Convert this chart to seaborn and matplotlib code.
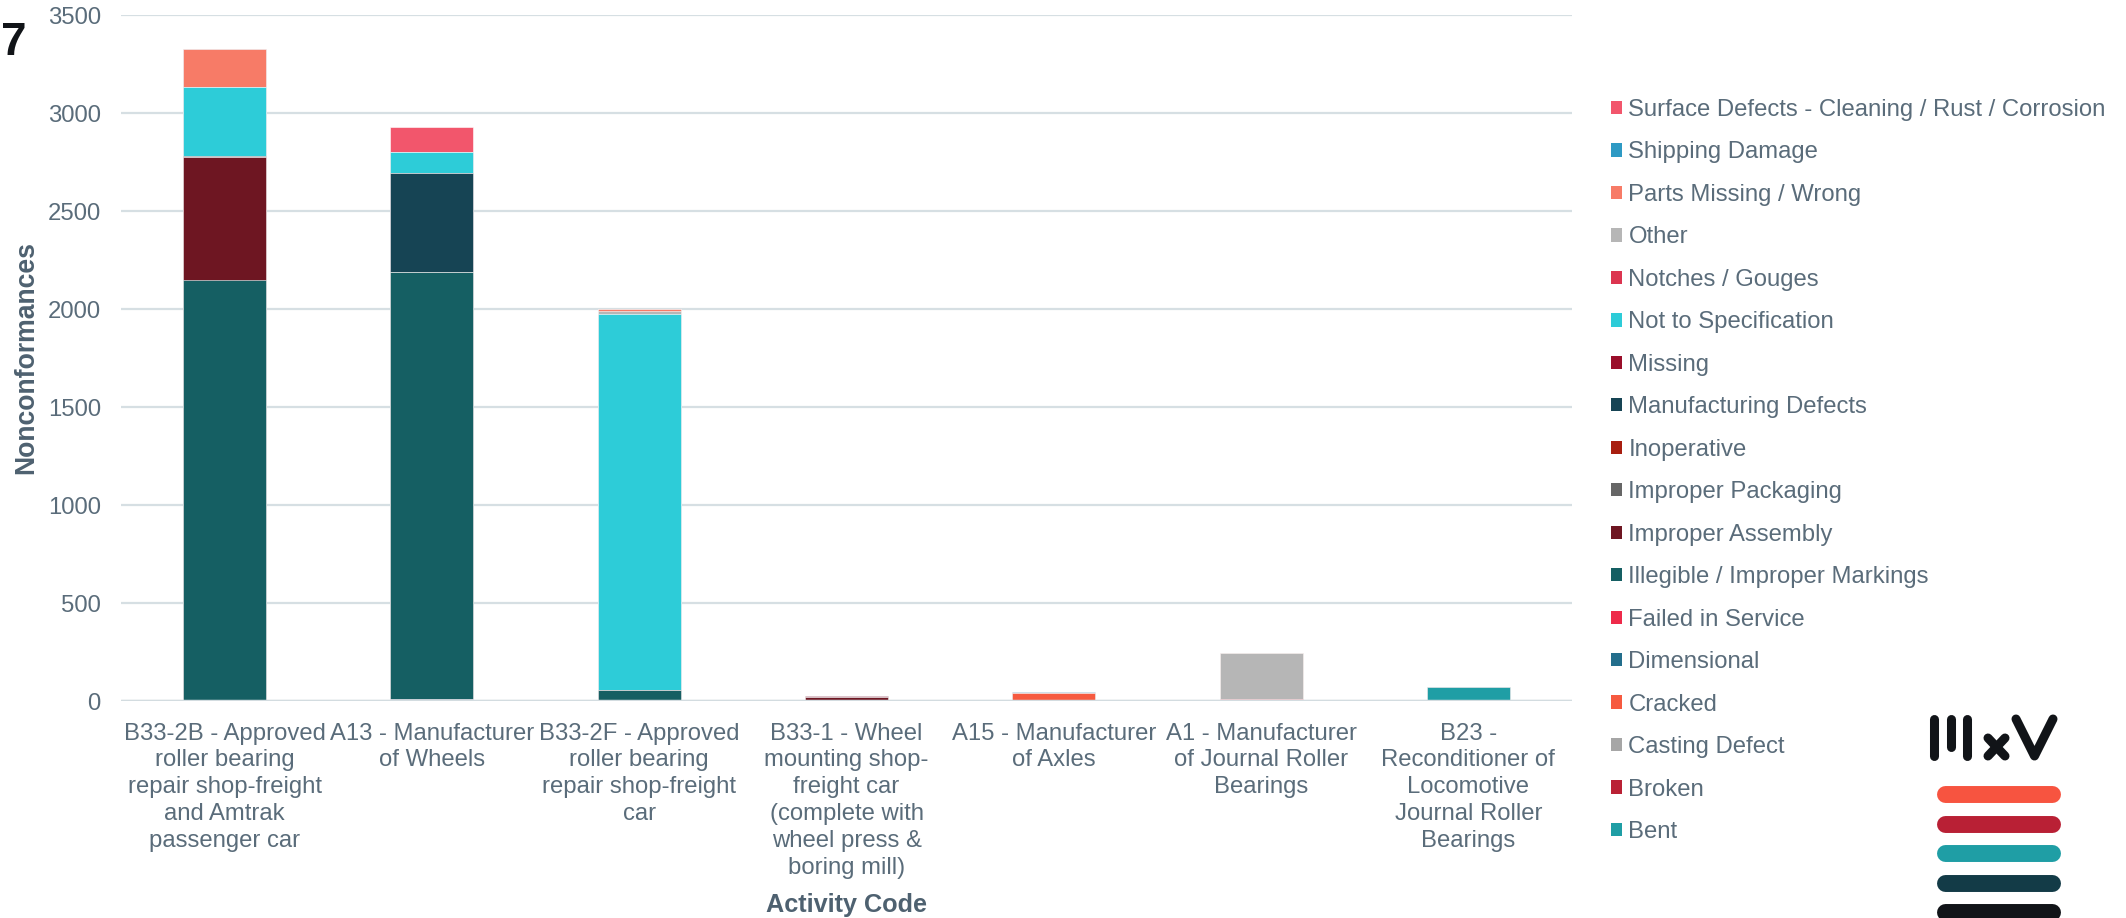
import matplotlib
matplotlib.use("Agg")
import matplotlib.pyplot as plt
from matplotlib.lines import Line2D
from matplotlib.patches import Patch
import pandas as pd
import seaborn as sns

# ---- data -------------------------------------------------------------
activity_codes = [
    "B33-2B - Approved roller bearing repair shop-freight and Amtrak passenger car",
    "A13 - Manufacturer of Wheels",
    "B33-2F - Approved roller bearing repair shop-freight car",
    "B33-1 - Wheel mounting shop-freight car (complete with wheel press & boring mill)",
    "A15 - Manufacturer of Axles",
    "A1 - Manufacturer of Journal Roller Bearings",
    "B23 - Reconditioner of Locomotive Journal Roller Bearings",
]
tick_labels = [
    "B33-2B - Approved\nroller bearing\nrepair shop-freight\nand Amtrak\npassenger car",
    "A13 - Manufacturer\nof Wheels",
    "B33-2F - Approved\nroller bearing\nrepair shop-freight\ncar",
    "B33-1 - Wheel\nmounting shop-\nfreight car\n(complete with\nwheel press &\nboring mill)",
    "A15 - Manufacturer\nof Axles",
    "A1 - Manufacturer\nof Journal Roller\nBearings",
    "B23 -\nReconditioner of\nLocomotive\nJournal Roller\nBearings",
]

# stacking order, bottom to top
defect_types = [
    "Bent", "Broken", "Casting Defect", "Cracked", "Dimensional",
    "Failed in Service", "Illegible / Improper Markings", "Improper Assembly",
    "Improper Packaging", "Inoperative", "Manufacturing Defects", "Missing",
    "Not to Specification", "Notches / Gouges", "Other",
    "Parts Missing / Wrong", "Shipping Damage",
    "Surface Defects - Cleaning / Rust / Corrosion",
]
defect_colors = [
    "#1F9EA5", "#BA2135", "#A6A6A6", "#F65A40", "#236E8C",
    "#EE2A4A", "#155F63", "#6E1622",
    "#666666", "#A81E10", "#164454", "#9A0E2A",
    "#2DCCD8", "#DC3550", "#B6B6B6",
    "#F77B67", "#2E9AC4",
    "#F2566C",
]

# nonconformance counts per activity code (same order as activity_codes)
bent                  = [0, 0, 0, 0, 0, 0, 73]
broken                = [0, 0, 0, 0, 0, 8, 0]
casting_defect        = [0, 0, 0, 0, 0, 0, 0]
cracked               = [0, 0, 0, 0, 40, 0, 0]
dimensional           = [0, 10, 0, 0, 0, 0, 0]
failed_in_service     = [0, 0, 0, 0, 0, 0, 0]
illegible_markings    = [2146, 2177, 55, 0, 0, 0, 0]
improper_assembly     = [630, 0, 0, 21, 0, 0, 0]
improper_packaging    = [0, 0, 0, 0, 0, 0, 0]
inoperative           = [0, 0, 0, 0, 0, 0, 0]
manufacturing_defects = [5, 508, 0, 0, 0, 0, 0]
missing               = [0, 0, 0, 7, 0, 0, 0]
not_to_specification  = [353, 104, 1919, 0, 0, 0, 0]
notches_gouges        = [0, 0, 0, 0, 0, 0, 0]
other                 = [0, 0, 14, 0, 0, 235, 0]
parts_missing_wrong   = [191, 0, 12, 0, 0, 0, 0]
shipping_damage       = [0, 0, 0, 0, 7, 0, 0]
surface_defects       = [0, 131, 0, 0, 0, 0, 0]

series = [
    bent, broken, casting_defect, cracked, dimensional, failed_in_service,
    illegible_markings, improper_assembly, improper_packaging, inoperative,
    manufacturing_defects, missing, not_to_specification, notches_gouges,
    other, parts_missing_wrong, shipping_damage, surface_defects,
]

rows = []
for defect, values in zip(defect_types, series):
    for code, v in zip(activity_codes, values):
        rows.append({"activity": code, "defect": defect, "count": v})
df = pd.DataFrame(rows)
df["defect"] = pd.Categorical(df["defect"], categories=defect_types, ordered=True)
df = df.sort_values(["activity", "defect"])
df["top"] = df.groupby("activity")["count"].cumsum()

# ---- style ------------------------------------------------------------
sns.set_theme(style="white")
plt.rcParams["font.family"] = ["Liberation Sans", "DejaVu Sans"]
text_color = "#5A6C7A"
label_color = "#4E6170"
grid_color = "#D6DFE3"
fs = 17.2

fig = plt.figure(figsize=(21.26, 9.18), dpi=100)
W, H = 2126, 918
ax = fig.add_axes([121 / W, 1 - 701 / H, 1451 / W, 686 / H])

# stacked bars: paint cumulative totals from the top layer downwards
for defect, color in zip(reversed(defect_types), reversed(defect_colors)):
    sub = df[df["defect"] == defect]
    sns.barplot(data=sub, x="activity", y="top", order=activity_codes,
                color=color, saturation=1, width=0.4, errorbar=None,
                edgecolor="white", linewidth=0.4, ax=ax, zorder=3)

ax.set_ylim(0, 3500)
ax.set_xlim(-0.5, len(activity_codes) - 0.5)
ax.set_yticks(range(0, 3501, 500))
ax.yaxis.grid(True, color=grid_color, linewidth=1.6)
ax.set_axisbelow(True)
ax.axhline(0, color="#D3DCE0", linewidth=2.5, zorder=5)
for s in ax.spines.values():
    s.set_visible(False)

ax.set_xticks(range(len(activity_codes)))
ax.set_xticklabels(tick_labels)
ax.tick_params(axis="x", length=0, pad=15.5, labelsize=fs, labelcolor=text_color)
ax.tick_params(axis="y", length=0, pad=14.5, labelsize=fs, labelcolor=text_color)
for t in ax.get_xticklabels():
    t.set_linespacing(1.29)

ax.set_xlabel("Activity Code", fontsize=18.2, fontweight="bold", color=label_color, labelpad=10)
ax.set_ylabel("Nonconformances", fontsize=19.2, fontweight="bold", color=label_color, labelpad=6)

# legend, top entry is the top of the stack
handles = [Patch(facecolor=c, edgecolor="none") for c in reversed(defect_colors)]
labels = list(reversed(defect_types))
leg = fig.legend(handles, labels, loc="upper left",
                 bbox_to_anchor=(1611 / W, 1 - 99 / H),
                 frameon=False, fontsize=fs, labelcolor=text_color,
                 handlelength=0.48, handleheight=0.48, handletextpad=0.25,
                 labelspacing=0.857, borderpad=0, borderaxespad=0)

# brand mark in the lower right corner
def px(x, y):
    return x / W, 1 - y / H

ink = "#111418"
for x0, y0, y1 in [(1934, 719, 756), (1951, 719, 747), (1967, 719, 756)]:
    (a, b), (c, d) = px(x0, y0), px(x0, y1)
    fig.add_artist(Line2D([a, c], [b, d], transform=fig.transFigure, color=ink,
                          linewidth=6.5, solid_capstyle="round"))
for (xa, ya), (xb, yb) in [((1988, 738), (2005, 756)), ((1988, 756), (2005, 738))]:
    (a, b), (c, d) = px(xa, ya), px(xb, yb)
    fig.add_artist(Line2D([a, c], [b, d], transform=fig.transFigure, color=ink,
                          linewidth=6.5, solid_capstyle="round"))
vx, vy = zip(*[px(2016, 719), px(2034.5, 756), px(2053, 719)])
fig.add_artist(Line2D(vx, vy, transform=fig.transFigure, color=ink, linewidth=6.5,
                      solid_capstyle="round", solid_joinstyle="round"))

stripe_colors = ["#F75440", "#B92035", "#1F9EA5", "#133B47", "#111418"]
for i, c in enumerate(stripe_colors):
    y = 794 + i * 29.5
    (a, b), (cc, d) = px(1945, y), px(2052, y)
    fig.add_artist(Line2D([a, cc], [b, d], transform=fig.transFigure, color=c,
                          linewidth=12.2, solid_capstyle="round"))

# page number at the top-left edge
fig.text(1 / W, 1 - 55 / H, "7", fontsize=33,
         family=["Liberation Sans Narrow", "Liberation Sans"], fontweight="bold",
         color="#111418", ha="left", va="baseline")

fig.savefig("out.png", dpi=100)
